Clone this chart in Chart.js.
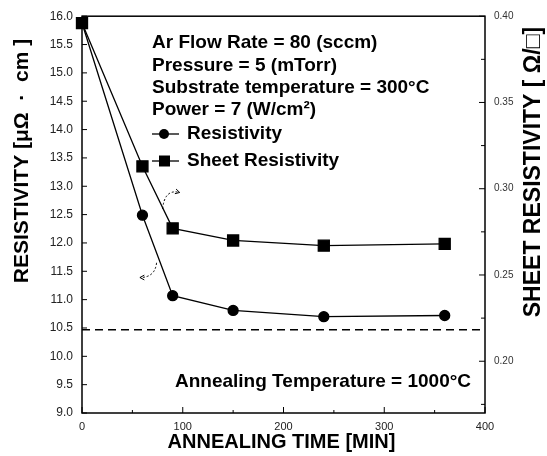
<!DOCTYPE html>
<html>
<head>
<meta charset="utf-8">
<script src="https://cdn.jsdelivr.net/npm/chart.js@4"></script>
<style>
  html, body { margin: 0; padding: 0; background: #fff; }
  #wrap { width: 547px; height: 456px; }
</style>
</head>
<body>
<div id="wrap"><canvas id="chart" width="547" height="456"></canvas></div>
<script>
// values
var times = [0, 60, 90, 150, 240, 360];
var resistivity = [15.88, 12.49, 11.07, 10.81, 10.70, 10.72];
var sheetResistivity = [0.396, 0.313, 0.277, 0.270, 0.267, 0.268];
var baselineX = [0, 400];
var baselineY = [10.47, 10.47];

var xTicks = [0, 100, 200, 300, 400];
var xMinorTicks = [50, 150, 250, 350];
var leftTicks = [9.0, 9.5, 10.0, 10.5, 11.0, 11.5, 12.0, 12.5, 13.0, 13.5, 14.0, 14.5, 15.0, 15.5, 16.0];
var rightTicks = [0.20, 0.25, 0.30, 0.35, 0.40];
var rightMinorTicks = [0.175, 0.225, 0.275, 0.325, 0.375];

var notes = [
  'Ar Flow Rate = 80 (sccm)',
  'Pressure = 5 (mTorr)',
  'Substrate temperature = 300\u00b0C',
  'Power = 7 (W/cm\u00b2)'
];
var legendLabels = ['Resistivity', 'Sheet Resistivity'];
var footNote = 'Annealing Temperature = 1000\u00b0C';

// curved pointer arrows, in data units of x / left y axis: start, control, end
var arrows = [
  [[80, 12.60], [82, 12.96], [97, 12.89]],
  [[74, 11.65], [72.5, 11.39], [57.5, 11.39]]
];

var FONT = '"Liberation Sans", Arial, sans-serif';

function pts(xs, ys) {
  return xs.map(function (x, i) { return { x: x, y: ys[i] }; });
}

function useTicks(list) {
  return function (scale) {
    scale.ticks = list.map(function (v) { return { value: v }; });
  };
}

var decor = {
  id: 'decor',
  afterDraw: function (chart) {
    var ctx = chart.ctx;
    var a = chart.chartArea;
    var sx = chart.scales.x, sy = chart.scales.y, sy1 = chart.scales.y1;
    ctx.save();
    ctx.strokeStyle = '#000';
    ctx.fillStyle = '#000';

    // frame
    ctx.lineWidth = 1.5;
    ctx.strokeRect(a.left, a.top, a.right - a.left, a.bottom - a.top);

    // inward ticks
    ctx.lineWidth = 1;
    ctx.beginPath();
    xTicks.forEach(function (v) {
      var p = sx.getPixelForValue(v);
      ctx.moveTo(p, a.bottom); ctx.lineTo(p, a.bottom - 6);
    });
    xMinorTicks.forEach(function (v) {
      var p = sx.getPixelForValue(v);
      ctx.moveTo(p, a.bottom); ctx.lineTo(p, a.bottom - 3);
    });
    leftTicks.forEach(function (v) {
      var p = sy.getPixelForValue(v);
      ctx.moveTo(a.left, p); ctx.lineTo(a.left + 5, p);
    });
    rightTicks.forEach(function (v) {
      var p = sy1.getPixelForValue(v);
      ctx.moveTo(a.right, p); ctx.lineTo(a.right - 6, p);
    });
    rightMinorTicks.forEach(function (v) {
      var p = sy1.getPixelForValue(v);
      ctx.moveTo(a.right, p); ctx.lineTo(a.right - 4, p);
    });
    ctx.stroke();

    // condition notes
    ctx.font = 'bold 19px ' + FONT;
    ctx.textBaseline = 'middle';
    ctx.textAlign = 'left';
    var tx = a.left + 70;
    var rows = [43, 66, 88, 110];
    notes.forEach(function (t, i) { ctx.fillText(t, tx, rows[i]); });

    // legend
    var legendRows = [134, 161];
    ctx.lineWidth = 1.3;
    legendRows.forEach(function (y, i) {
      ctx.beginPath();
      ctx.moveTo(tx, y); ctx.lineTo(tx + 27, y);
      ctx.stroke();
      ctx.beginPath();
      if (i === 0) {
        ctx.arc(tx + 12, y, 5, 0, Math.PI * 2);
      } else {
        ctx.rect(tx + 7, y - 5.5, 11, 11);
      }
      ctx.fill();
      ctx.fillText(legendLabels[i], tx + 35, y);
    });

    ctx.fillText(footNote, a.left + 93, 382);

    // pointer arrows
    ctx.lineWidth = 1;
    arrows.forEach(function (ar) {
      var p = ar.map(function (q) { return [sx.getPixelForValue(q[0]), sy.getPixelForValue(q[1])]; });
      ctx.setLineDash([2, 2]);
      ctx.beginPath();
      ctx.moveTo(p[0][0], p[0][1]);
      ctx.quadraticCurveTo(p[1][0], p[1][1], p[2][0], p[2][1]);
      ctx.stroke();
      ctx.setLineDash([]);
      var dx = p[2][0] - p[1][0], dy = p[2][1] - p[1][1];
      var ang = Math.atan2(dy, dx);
      ctx.beginPath();
      ctx.moveTo(p[2][0] - 5 * Math.cos(ang - 0.5), p[2][1] - 5 * Math.sin(ang - 0.5));
      ctx.lineTo(p[2][0], p[2][1]);
      ctx.lineTo(p[2][0] - 5 * Math.cos(ang + 0.5), p[2][1] - 5 * Math.sin(ang + 0.5));
      ctx.stroke();
    });

    // axis titles
    ctx.textAlign = 'center';
    ctx.font = 'bold 20px ' + FONT;
    ctx.fillText('ANNEALING TIME [MIN]', (a.left + a.right) / 2 - 2, 442);

    ctx.font = 'bold 21px ' + FONT;
    ctx.save();
    ctx.translate(22, 161);
    ctx.rotate(-Math.PI / 2);
    ctx.fillText('RESISTIVITY [\u03bc\u03a9  \u00b7  cm ]', 0, 0);
    ctx.restore();

    ctx.font = 'bold 23px ' + FONT;
    ctx.save();
    ctx.translate(534, 172);
    ctx.rotate(-Math.PI / 2);
    ctx.fillText('SHEET RESISTIVITY [ \u03a9/\u25a1]', 0, 0);
    ctx.restore();

    ctx.restore();
  }
};

new Chart(document.getElementById('chart'), {
  type: 'line',
  data: {
    datasets: [{
      label: legendLabels[0],
      data: pts(times, resistivity),
      yAxisID: 'y',
      borderColor: '#000',
      backgroundColor: '#000',
      borderWidth: 1.3,
      pointStyle: 'circle',
      pointRadius: 5,
      tension: 0,
      clip: false
    }, {
      label: legendLabels[1],
      data: pts(times, sheetResistivity),
      yAxisID: 'y1',
      borderColor: '#000',
      backgroundColor: '#000',
      borderWidth: 1.3,
      pointStyle: 'rect',
      pointRadius: 7.8,
      tension: 0,
      clip: false
    }, {
      label: 'baseline',
      data: pts(baselineX, baselineY),
      yAxisID: 'y',
      borderColor: '#000',
      borderWidth: 1.5,
      borderDash: [8, 5],
      pointRadius: 0
    }]
  },
  options: {
    responsive: false,
    animation: false,
    devicePixelRatio: 1,
    layout: { padding: { top: 14, left: 0, right: 0, bottom: 0 } },
    plugins: { legend: { display: false }, tooltip: { enabled: false } },
    scales: {
      x: {
        type: 'linear',
        min: 0, max: 400,
        afterBuildTicks: useTicks(xTicks),
        afterFit: function (s) { s.height = 43; },
        grid: { display: false, drawTicks: false },
        border: { display: false },
        ticks: { padding: 7, color: '#222', font: { family: FONT, size: 11 } }
      },
      y: {
        position: 'left',
        min: 9, max: 16,
        afterBuildTicks: useTicks(leftTicks),
        afterFit: function (s) { s.width = 82; },
        grid: { display: false, drawTicks: false },
        border: { display: false },
        ticks: {
          padding: 9, color: '#222', font: { family: FONT, size: 12 },
          callback: function (v) { return v.toFixed(1); }
        }
      },
      y1: {
        position: 'right',
        min: 0.17, max: 0.40,
        afterBuildTicks: useTicks(rightTicks),
        afterFit: function (s) { s.width = 62; },
        grid: { display: false, drawTicks: false },
        border: { display: false },
        ticks: {
          padding: 9, color: '#333', font: { family: FONT, size: 10 },
          callback: function (v) { return v.toFixed(2); }
        }
      }
    }
  },
  plugins: [decor]
});
</script>
</body>
</html>
